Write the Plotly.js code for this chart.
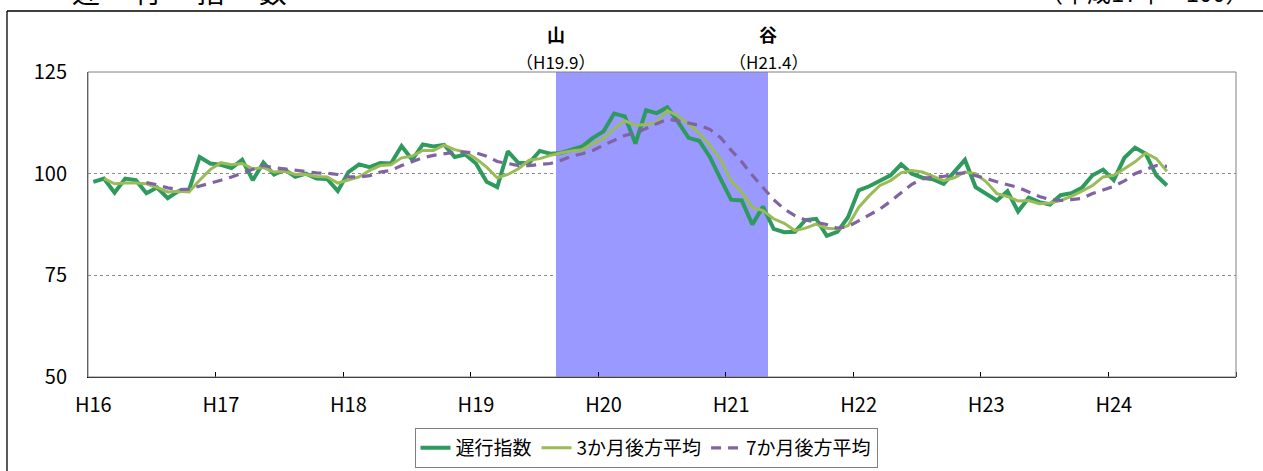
<!DOCTYPE html>
<html>
<head>
<meta charset="utf-8">
<script src="https://cdn.plot.ly/plotly-3.0.1.min.js"></script>
<style>
  html, body { margin: 0; padding: 0; background: #ffffff; }
  #chart { width: 1263px; height: 471px; }
</style>
</head>
<body>
<div id="chart"></div>
<script>
// ---- data (monthly, H16.1 ... H24.6) ----
const yearLabels = ['H16', 'H17', 'H18', 'H19', 'H20', 'H21', 'H22', 'H23', 'H24'];

// 遅行指数
const lagging = [
  98.0, 98.8, 95.3, 98.8, 98.4, 95.2, 96.6, 94.0, 95.7, 95.9, 104.1, 102.5,
  102.2, 101.4, 103.4, 98.4, 102.7, 99.8, 101.0, 99.2, 100.0, 98.8, 98.7, 95.7,
  100.4, 102.3, 101.6, 102.6, 102.5, 106.8, 103.4, 107.2, 106.7, 107.1, 104.1, 104.7,
  102.5, 98.0, 96.7, 105.5, 102.6, 102.6, 105.6, 104.9, 105.1, 105.9, 106.7, 108.8,
  110.4, 114.8, 114.1, 107.4, 115.6, 114.9, 116.3, 112.8, 108.8, 108.1, 104.1, 98.8,
  93.6, 93.4, 87.5, 91.9, 86.4, 85.6, 85.7, 88.6, 88.9, 84.7, 85.7, 89.3,
  95.9, 96.9, 98.3, 99.6, 102.3, 100.0, 99.0, 98.6, 97.5, 100.4, 103.4, 96.7,
  95.1, 93.4, 95.7, 90.7, 94.1, 93.0, 92.4, 94.7, 95.2, 96.5, 99.6, 101.0,
  98.4, 103.9, 106.4, 104.9, 99.6, 97.1
];

// 3か月後方平均
const avg3 = [
  null, 98.8, 97.5, 97.7, 97.7, 97.5, 96.6, 95.5, 95.7, 95.5, 98.4, 101.0,
  102.7, 102.2, 102.5, 101.2, 101.5, 100.4, 100.6, 99.8, 99.8, 99.3, 99.2, 97.7,
  98.4, 99.2, 100.8, 102.0, 102.2, 103.9, 104.3, 105.7, 105.7, 107.0, 105.9, 105.3,
  103.7, 101.6, 99.0, 99.8, 101.2, 103.3, 103.7, 104.5, 105.1, 105.6, 105.9, 107.4,
  108.6, 111.1, 113.0, 111.9, 112.1, 112.6, 115.5, 114.2, 112.2, 109.9, 107.0, 103.5,
  98.3, 95.5, 91.7, 90.9, 88.9, 87.8, 86.0, 86.6, 87.6, 86.6, 86.4, 87.2,
  91.7, 94.6, 97.1, 98.3, 100.2, 100.8, 100.4, 99.3, 98.3, 99.0, 100.4, 100.0,
  98.0, 95.1, 94.4, 93.3, 93.4, 92.6, 92.8, 93.4, 94.4, 95.7, 97.1, 99.2,
  99.6, 101.2, 102.9, 105.1, 103.7, 100.6
];

// 7か月後方平均
const avg7 = [
  null, null, null, null, null, 97.8, 97.3, 96.5, 96.1, 96.2, 96.9, 97.5,
  98.4, 99.2, 100.2, 101.2, 102.0, 101.5, 101.1, 100.8, 100.5, 100.2, 100.1, 99.8,
  99.2, 99.2, 99.5, 100.4, 100.8, 102.0, 102.9, 103.9, 104.5, 104.9, 105.3, 105.3,
  105.1, 104.3, 103.0, 102.5, 102.0, 102.0, 102.3, 102.5, 103.3, 104.3, 104.9, 105.7,
  107.0, 108.2, 109.4, 110.0, 111.1, 112.2, 113.4, 113.0, 112.4, 111.9, 110.9, 108.9,
  105.8, 102.9, 99.6, 96.5, 93.6, 91.3, 89.7, 88.6, 88.0, 87.5, 86.6, 87.0,
  88.4, 89.9, 91.3, 93.2, 95.2, 97.4, 98.7, 99.2, 99.3, 100.0, 100.2, 99.6,
  98.8, 98.0, 97.4, 96.6, 95.5, 94.4, 93.6, 93.4, 93.6, 93.9, 95.1, 95.9,
  96.9, 98.2, 100.0, 101.0, 102.0, 101.8
];

// 景気の山・谷 (month index from H16.1)
const peakLabel = '山';
const peakDate = '（H19.9）';
const peakIndex = 44;     // H19.9
const troughLabel = '谷';
const troughDate = '（H21.4）';
const troughIndex = 63;   // H21.4

const yTicks = [50, 75, 100, 125];

// ---- derived ----
const totalMonths = yearLabels.length * 12;
const idx = lagging.map((_, i) => i);
const yearTickVals = yearLabels.map((_, k) => k * 12);
const boundaryTicks = yearLabels.map((_, k) => k * 12 + 11.5);
const shadeX = [];
for (let i = peakIndex; i <= troughIndex; i++) shadeX.push(i);
const shadeY = shadeX.map(() => yTicks[yTicks.length - 1]);

const FONT = '"Noto Sans CJK JP", "Noto Sans", sans-serif';

const traces = [
  {
    type: 'bar', x: shadeX, y: shadeY, width: 1,
    marker: { color: '#9999FF', line: { width: 0 } },
    showlegend: false, hoverinfo: 'skip'
  },
  {
    type: 'scatter', mode: 'lines', name: '遅行指数',
    x: idx, y: lagging,
    line: { color: '#2E9A5E', width: 4 }
  },
  {
    type: 'scatter', mode: 'lines', name: '3か月後方平均',
    x: idx, y: avg3,
    line: { color: '#9BBB59', width: 3 }
  },
  {
    type: 'scatter', mode: 'lines', name: '7か月後方平均',
    x: idx, y: avg7,
    line: { color: '#8064A2', width: 3.2, dash: '10px,7px' }
  }
];

// pixel helpers for layout decoration (plot area: 88..1236 x 72..377)
const W = 1263, H = 471, L = 88, R = 27, T = 72, B = 94;
const pw = W - L - R, ph = H - T - B;
const px = v => (v - L) / pw;
const py = v => (H - B - v) / ph;

const layout = {
  width: W, height: H,
  margin: { l: L, r: R, t: T, b: B, autoexpand: false },
  paper_bgcolor: '#ffffff',
  plot_bgcolor: '#ffffff',
  font: { family: FONT, color: '#000000', size: 20 },
  bargap: 0,
  showlegend: true,
  xaxis: {
    range: [-0.5, totalMonths - 0.5],
    tickmode: 'array', tickvals: yearTickVals, ticktext: yearLabels,
    ticks: '', showgrid: false, zeroline: false,
    showline: true, linecolor: '#000000', linewidth: 1,
    tickfont: { size: 20 },
    ticklabelstandoff: 10,
    minor: { tickmode: 'array', tickvals: boundaryTicks, ticks: 'inside', ticklen: 5, tickcolor: '#000000', tickwidth: 1, showgrid: false },
    fixedrange: true,
    automargin: false
  },
  yaxis: {
    range: [50, 125],
    tickmode: 'array', tickvals: yTicks,
    ticks: '', showgrid: true, gridcolor: '#8c8c8c', gridwidth: 1, griddash: 'dot',
    zeroline: false, showline: true, linecolor: '#404040', linewidth: 1,
    tickfont: { size: 20 },
    ticklabelstandoff: 16,
    fixedrange: true,
    automargin: false
  },
  legend: {
    orientation: 'h',
    x: px(646), xanchor: 'center',
    y: py(428), yanchor: 'top',
    bordercolor: '#808080', borderwidth: 1, bgcolor: '#ffffff',
    font: { size: 19, family: FONT },
    itemwidth: 30,
    traceorder: 'normal'
  },
  shapes: [
    { type: 'rect', xref: 'paper', yref: 'paper', x0: 0, x1: 1, y0: 0, y1: 1,
      line: { color: '#808080', width: 1 }, layer: 'above' },
    { type: 'line', xref: 'paper', yref: 'paper', x0: px(7), x1: px(1270), y0: py(11), y1: py(11),
      line: { color: '#000000', width: 1.3 } },
    { type: 'line', xref: 'paper', yref: 'paper', x0: px(7), x1: px(7), y0: py(11), y1: py(480),
      line: { color: '#000000', width: 1.3 } }
  ],
  annotations: [
    { xref: 'paper', yref: 'paper', x: px(70), xanchor: 'left', y: py(13), yanchor: 'bottom',
      text: '遅　 行　 指　 数', showarrow: false, font: { size: 28, family: FONT } },
    { xref: 'paper', yref: 'paper', x: px(1252), xanchor: 'right', y: py(11), yanchor: 'bottom',
      text: '（平成17年＝100）', showarrow: false, font: { size: 24, family: FONT } },
    { xref: 'x', yref: 'paper', x: peakIndex - 0.5, y: py(34), yanchor: 'middle',
      text: '<b>' + peakLabel + '</b>', showarrow: false, font: { size: 18 } },
    { xref: 'x', yref: 'paper', x: peakIndex - 0.5, y: py(61), yanchor: 'middle',
      text: peakDate, showarrow: false, font: { size: 17 } },
    { xref: 'x', yref: 'paper', x: troughIndex + 0.5, y: py(34), yanchor: 'middle',
      text: '<b>' + troughLabel + '</b>', showarrow: false, font: { size: 18 } },
    { xref: 'x', yref: 'paper', x: troughIndex + 0.5, y: py(61), yanchor: 'middle',
      text: troughDate, showarrow: false, font: { size: 17 } }
  ]
};

Plotly.newPlot('chart', traces, layout, { displayModeBar: false, staticPlot: true });
</script>
</body>
</html>
